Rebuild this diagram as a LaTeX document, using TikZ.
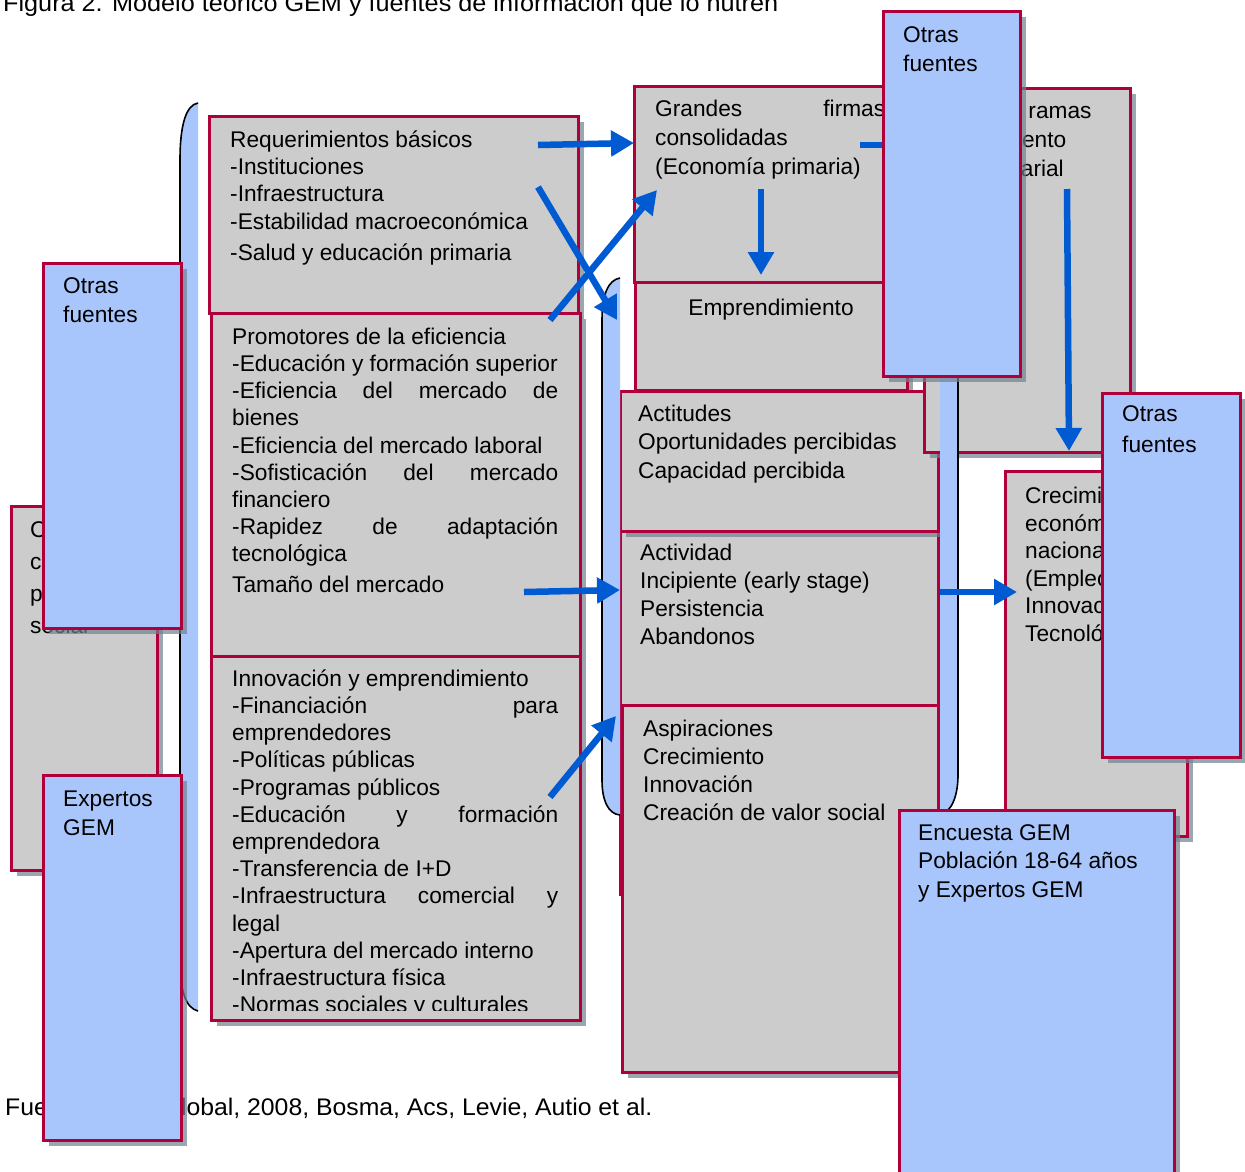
\documentclass[tikz,border=0pt]{standalone}
\usepackage{fontspec}
\setmainfont{Liberation Sans}
\usetikzlibrary{arrows.meta,shadows}
\definecolor{crim}{HTML}{B0003C}
\definecolor{boxgray}{HTML}{CCCCCC}
\definecolor{boxblue}{HTML}{A9C6FC}
\definecolor{shad}{HTML}{6F8290}
\definecolor{arrblue}{HTML}{005AD2}
\newcommand{\jl}[1]{\makebox[326pt][s]{#1}}
\begin{document}
\begin{tikzpicture}[x=1pt,y=-1pt,
  box/.style={draw=crim, line width=3pt, rectangle, inner sep=0pt, outer sep=0pt, anchor=north west,
    general shadow={fill=shad, fill opacity=0.7, shadow xshift=6pt, shadow yshift=-6pt}},
  graybox/.style={box, fill=boxgray},
  bluebox/.style={box, fill=boxblue},
  txt/.style={anchor=north west, inner sep=0pt, align=left, font=\fontsize{22.7}{#1}\selectfont},
  txt/.default=27.3,
  arr/.style={draw=arrblue, line width=6.5pt, -{Triangle[length=23pt,width=25pt]}},
  bracefill/.style={fill=boxblue},
  braceline/.style={draw=black, line width=1.6pt}]
\useasboundingbox (0,0) rectangle (1245,1171);
\clip (0,0) rectangle (1245,1171);

% title and source
\node[anchor=base west, inner sep=0pt] (title) at (3,11)
  {\resizebox{775pt}{\height}{\fontsize{24}{24}\selectfont Figura 2. Modelo teórico GEM y fuentes de información que lo nutren}};
\node[anchor=base west, inner sep=0pt] (source) at (5,1115)
  {\resizebox{647pt}{\height}{\fontsize{24}{24}\selectfont Fuente: GEM Global, 2008, Bosma, Acs, Levie, Autio et al.}};

% big left brace
\fill[bracefill] (198,103) .. controls (186,105) and (180,125) .. (180,160) -- (180,960) .. controls (180,992) and (186,1008) .. (198,1011) -- cycle;
\draw[braceline] (198,103) .. controls (186,105) and (180,125) .. (180,160) -- (180,960) .. controls (180,992) and (186,1008) .. (198,1011);

% social context box
\node[graybox, minimum width=146pt, minimum height=364pt] (social) at (11,506) {};
\node[txt=32] (socialT) at (30,515) {\strut Contexto\\cultural,\\político y\\social};

% left column
\node[graybox, minimum width=369pt, minimum height=197pt] (req) at (209,116) {};
\node[txt] (reqT) at (230,128) {\strut Requerimientos básicos\\-Instituciones\\-Infraestructura\\-Estabilidad macroeconómica\\[4pt]-Salud y educación primaria};
\node[graybox, minimum width=369pt, minimum height=343pt] (prom) at (211,313) {};
\node[txt=27.2] (promT) at (232,325) {\strut Promotores de la eficiencia\\-Educación y formación superior\\\jl{-Eficiencia del mercado de}\\bienes\\-Eficiencia del mercado laboral\\\jl{-Sofisticación del mercado}\\financiero\\\jl{-Rapidez de adaptación}\\tecnológica\\[3pt]Tamaño del mercado};
\node[graybox, minimum width=369pt, minimum height=364pt] (innov) at (211,656) {};
\begin{scope}
\clip (213,658) rectangle (578,1010);
\node[txt=27.2] (innovT) at (232,667) {\strut Innovación y emprendimiento\\\jl{-Financiación para}\\emprendedores\\-Políticas públicas\\-Programas públicos\\\jl{-Educación y formación}\\emprendedora\\-Transferencia de I+D\\\jl{-Infraestructura comercial y}\\legal\\-Apertura del mercado interno\\-Infraestructura física\\-Normas sociales y culturales};
\end{scope}

% top middle
\node[graybox, minimum width=273pt, minimum height=196pt] (grandes) at (634,86) {};
\node[txt=29] (grandesT) at (655,96) {\strut\makebox[230pt][s]{Grandes firmas}\\consolidadas\\(Economía primaria)};
\node[graybox, minimum width=272pt, minimum height=108pt] (empr) at (635,282) {};
\node[txt, anchor=north, align=center] (emprT) at (771,296) {\strut Emprendimiento};

% right
\node[graybox, minimum width=182pt, minimum height=365pt] (creci) at (1005,471) {};
\node[txt=27.6] (creciT) at (1025,484) {\strut Crecimiento\\económico\\nacional\\(Empleo,\\Innovación\\Tecnológica)};

% middle column
\node[graybox, minimum width=318pt, minimum height=363pt] (activ) at (620,531) {};
\node[txt=28] (activT) at (640,541) {\strut Actividad\\Incipiente (early stage)\\Persistencia\\Abandonos};
\node[graybox, minimum width=318pt, minimum height=140pt] (actit) at (620,391) {};
\node[txt=28.5] (actitT) at (638,401) {\strut Actitudes\\Oportunidades percibidas\\Capacidad percibida};
\node[graybox, minimum width=316pt, minimum height=367pt] (aspir) at (622,705) {};
\node[txt=28.3] (aspirT) at (643,716) {\strut Aspiraciones\\Crecimiento\\Innovación\\Creación de valor social};

% new branches box
\node[graybox, minimum width=206pt, minimum height=364pt] (ramas) at (924,88) {};
\node[txt=29] (ramasT) at (945,98) {\strut Nuevas ramas\\Crecimiento\\empresarial};

% middle braces
\fill[bracefill] (620,278) .. controls (608,280) and (602,295) .. (602,320) -- (602,780) .. controls (602,800) and (608,814) .. (620,815) -- cycle;
\draw[braceline] (620,278) .. controls (608,280) and (602,295) .. (602,320) -- (602,780) .. controls (602,800) and (608,814) .. (620,815);
\fill[bracefill] (940,278) .. controls (952,280) and (958,295) .. (958,320) -- (958,775) .. controls (958,795) and (952,812) .. (940,815) -- cycle;
\draw[braceline] (940,278) .. controls (952,280) and (958,295) .. (958,320) -- (958,775) .. controls (958,795) and (952,812) .. (940,815);

% arrow end points
\coordinate (a1s) at (538,145); \coordinate (a1e) at (634,143);
\coordinate (a2s) at (538,187); \coordinate (a2e) at (617,320);
\coordinate (a3s) at (550,320); \coordinate (a3e) at (657,190);
\coordinate (a4s) at (761,189); \coordinate (a4e) at (761,275);
\coordinate (a5s) at (860,145); \coordinate (a5e) at (924,145);
\coordinate (a6s) at (1067,189); \coordinate (a6e) at (1069,451);
\coordinate (a7s) at (524,592); \coordinate (a7e) at (620,590);
\coordinate (a8s) at (550,797); \coordinate (a8e) at (616,716);
\coordinate (a9s) at (940,592); \coordinate (a9e) at (1017,592);
\foreach \i in {1,...,9} {\draw[arr] (a\i s) -- (a\i e);}

% information sources
\node[bluebox, minimum width=138pt, minimum height=365pt] (otrasL) at (43,263) {};
\node[txt=29] (otrasLT) at (63,273) {\strut Otras\\fuentes};
\node[bluebox, minimum width=138pt, minimum height=365pt] (expertos) at (43,775) {};
\node[txt=29] (expertosT) at (63,786) {\strut Expertos\\GEM};
\node[bluebox, minimum width=137pt, minimum height=365pt] (otrasT) at (883,11) {};
\node[txt=29] (otrasTT) at (903,22) {\strut Otras\\fuentes};
\node[bluebox, minimum width=138pt, minimum height=364pt] (otrasR) at (1102,393) {};
\node[txt=31] (otrasRT) at (1122,400) {\strut Otras\\fuentes};
\node[bluebox, minimum width=275pt, minimum height=375pt] (encuesta) at (899,810) {};
\node[txt=28.5] (encuestaT) at (918,820) {\strut Encuesta GEM\\Población 18-64 años\\y Expertos GEM};
\end{tikzpicture}
\end{document}
